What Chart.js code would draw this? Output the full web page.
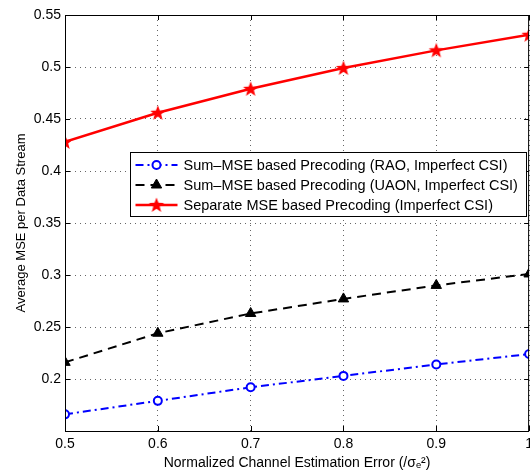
<!DOCTYPE html>
<html>
<head>
<meta charset="utf-8">
<script src="https://cdn.jsdelivr.net/npm/chart.js@4.4.1/dist/chart.umd.min.js"></script>
<style>
  html, body { margin: 0; padding: 0; background: #fff; overflow: hidden; }
  #wrap { width: 538px; height: 472px; }
</style>
</head>
<body>
<div id="wrap"><canvas id="grafico"></canvas></div>
<script>
// dados
var errorLevels = [0.5, 0.6, 0.7, 0.8, 0.9, 1.0];
var raoMse = [0.166, 0.179, 0.192, 0.203, 0.214, 0.224];
var uaonMse = [0.216, 0.244, 0.263, 0.277, 0.290, 0.301];
var separateMse = [0.428, 0.456, 0.479, 0.499, 0.516, 0.531];
var seriesNames = [
  "Sum\u2013MSE based Precoding (RAO, Imperfect CSI)",
  "Sum\u2013MSE based Precoding (UAON, Imperfect CSI)",
  "Separate MSE based Precoding (Imperfect CSI)"
];
var yTickLabels = ["0.2", "0.25", "0.3", "0.35", "0.4", "0.45", "0.5", "0.55"];
var xTickLabels = ["0.5", "0.6", "0.7", "0.8", "0.9", "1"];

var fonte = "'Liberation Sans', Arial, Helvetica, sans-serif";

function pares(ys) {
  return ys.map(function (v, i) { return { x: errorLevels[i], y: v }; });
}

// estrela cheia (o 'star' do chart.js e so riscos)
function makeStar(r, color) {
  var c = document.createElement("canvas");
  var s = Math.ceil(r * 2 + 2);
  c.width = s; c.height = s;
  var g = c.getContext("2d");
  g.fillStyle = color;
  g.beginPath();
  for (var k = 0; k < 10; k++) {
    var rr = (k % 2 === 0) ? r : r * 0.42;
    var a = -Math.PI / 2 + k * Math.PI / 5;
    var px = s / 2 + rr * Math.cos(a), py = s / 2 + rr * Math.sin(a) + 0.5;
    if (k === 0) g.moveTo(px, py); else g.lineTo(px, py);
  }
  g.closePath();
  g.fill();
  return c;
}
var starImg = makeStar(8, "#ff0000");

// caixa + legenda estilo matlab
var boxPlugin = {
  id: "boxPlugin",
  afterDatasetsDraw: function (chart) {
    var ctx = chart.ctx, a = chart.chartArea;
    var xs = chart.scales.x, ys = chart.scales.y;
    ctx.save();
    ctx.strokeStyle = "#000";
    ctx.lineWidth = 1;
    ctx.strokeRect(a.left + 0.5, a.top + 0.5, a.right - a.left - 1, a.bottom - a.top);
    // ticks internos
    ctx.beginPath();
    xTickLabels.forEach(function (t) {
      var px = Math.round(xs.getPixelForValue(parseFloat(t))) + 0.5;
      ctx.moveTo(px, a.bottom); ctx.lineTo(px, a.bottom - 5);
      ctx.moveTo(px, a.top); ctx.lineTo(px, a.top + 5);
    });
    yTickLabels.forEach(function (t) {
      var py = Math.round(ys.getPixelForValue(parseFloat(t))) + 0.5;
      ctx.moveTo(a.left, py); ctx.lineTo(a.left + 5, py);
      ctx.moveTo(a.right, py); ctx.lineTo(a.right - 5, py);
    });
    ctx.stroke();

    // legenda
    var bx = 130.5, by = 152.5, bw = 396, bh = 64;
    ctx.fillStyle = "#fff";
    ctx.fillRect(bx, by, bw, bh);
    ctx.strokeStyle = "#000";
    ctx.lineWidth = 1;
    ctx.strokeRect(bx, by, bw, bh);
    ctx.font = "14.5px " + fonte;
    ctx.textBaseline = "middle";
    chart.data.datasets.forEach(function (ds, i) {
      var ly = by + 12.5 + i * 20;
      ctx.save();
      ctx.strokeStyle = ds.borderColor;
      ctx.lineWidth = ds.borderWidth;
      ctx.setLineDash(ds.borderDash || []);
      ctx.beginPath();
      ctx.moveTo(bx + 5, ly); ctx.lineTo(bx + 47, ly);
      ctx.stroke();
      ctx.setLineDash([]);
      ctx.fillStyle = ds.pointBackgroundColor;
      ctx.strokeStyle = ds.pointBorderColor;
      ctx.lineWidth = ds.pointBorderWidth;
      Chart.helpers.drawPoint(ctx, {
        pointStyle: ds.pointStyle,
        radius: ds.pointRadius,
        borderWidth: ds.pointBorderWidth,
        rotation: 0
      }, bx + 26, ly);
      ctx.restore();
      ctx.fillStyle = "#000";
      ctx.fillText(ds.label, bx + 53, ly + 0.5);
    });
    ctx.restore();
  }
};

var grafico = new Chart(document.getElementById("grafico"), {
  type: "line",
  data: {
    datasets: [{
      label: seriesNames[0],
      data: pares(raoMse),
      borderColor: "#0000ff",
      borderWidth: 2,
      borderDash: [8, 4, 2, 4],
      pointStyle: "circle",
      pointRadius: 4,
      pointBorderWidth: 2,
      pointBorderColor: "#0000ff",
      pointBackgroundColor: "#ffffff",
      fill: false
    }, {
      label: seriesNames[1],
      data: pares(uaonMse),
      borderColor: "#000000",
      borderWidth: 2,
      borderDash: [9, 6],
      pointStyle: "triangle",
      pointRadius: 6,
      pointBorderWidth: 1,
      pointBorderColor: "#000000",
      pointBackgroundColor: "#000000",
      fill: false
    }, {
      label: seriesNames[2],
      data: pares(separateMse),
      borderColor: "#ff0000",
      borderWidth: 2.5,
      pointStyle: starImg,
      pointRadius: 8,
      pointBorderWidth: 0,
      pointBorderColor: "#ff0000",
      pointBackgroundColor: "#ff0000",
      fill: false
    }]
  },
  options: {
    responsive: true,
    maintainAspectRatio: false,
    animation: false,
    layout: { padding: { top: 15, right: 2, left: 0, bottom: 0 } },
    plugins: {
      legend: { display: false },
      tooltip: { enabled: false }
    },
    scales: {
      x: {
        type: "linear",
        min: 0.5,
        max: 1.0,
        afterBuildTicks: function (s) {
          s.ticks = xTickLabels.map(function (t) { return { value: parseFloat(t) }; });
        },
        afterFit: function (s) { s.height = 41; },
        ticks: {
          color: "#000",
          font: { family: fonte, size: 14 },
          padding: 5,
          maxRotation: 0,
          callback: function (v, i) { return xTickLabels[i]; }
        },
        grid: { color: "#666", lineWidth: 1, drawTicks: false },
        border: { display: false, dash: [1, 4] },
        title: {
          display: true,
          text: "Normalized Channel Estimation Error (/\u03c3\u2091\u00b2)",
          color: "#000",
          font: { family: fonte, size: 14 },
          padding: { top: 0, bottom: 0 }
        }
      },
      y: {
        min: 0.15,
        max: 0.55,
        afterBuildTicks: function (s) {
          s.ticks = yTickLabels.map(function (t) { return { value: parseFloat(t) }; });
        },
        afterFit: function (s) { s.width = 65; },
        ticks: {
          color: "#000",
          font: { family: fonte, size: 14 },
          padding: 4,
          callback: function (v, i) { return yTickLabels[i]; }
        },
        grid: { color: "#666", lineWidth: 1, drawTicks: false },
        border: { display: false, dash: [1, 4] },
        title: {
          display: true,
          text: "Average MSE per Data Stream",
          color: "#000",
          font: { family: fonte, size: 13 },
          padding: { top: 14, bottom: 4 }
        }
      }
    }
  },
  plugins: [boxPlugin]
});
</script>
</body>
</html>
